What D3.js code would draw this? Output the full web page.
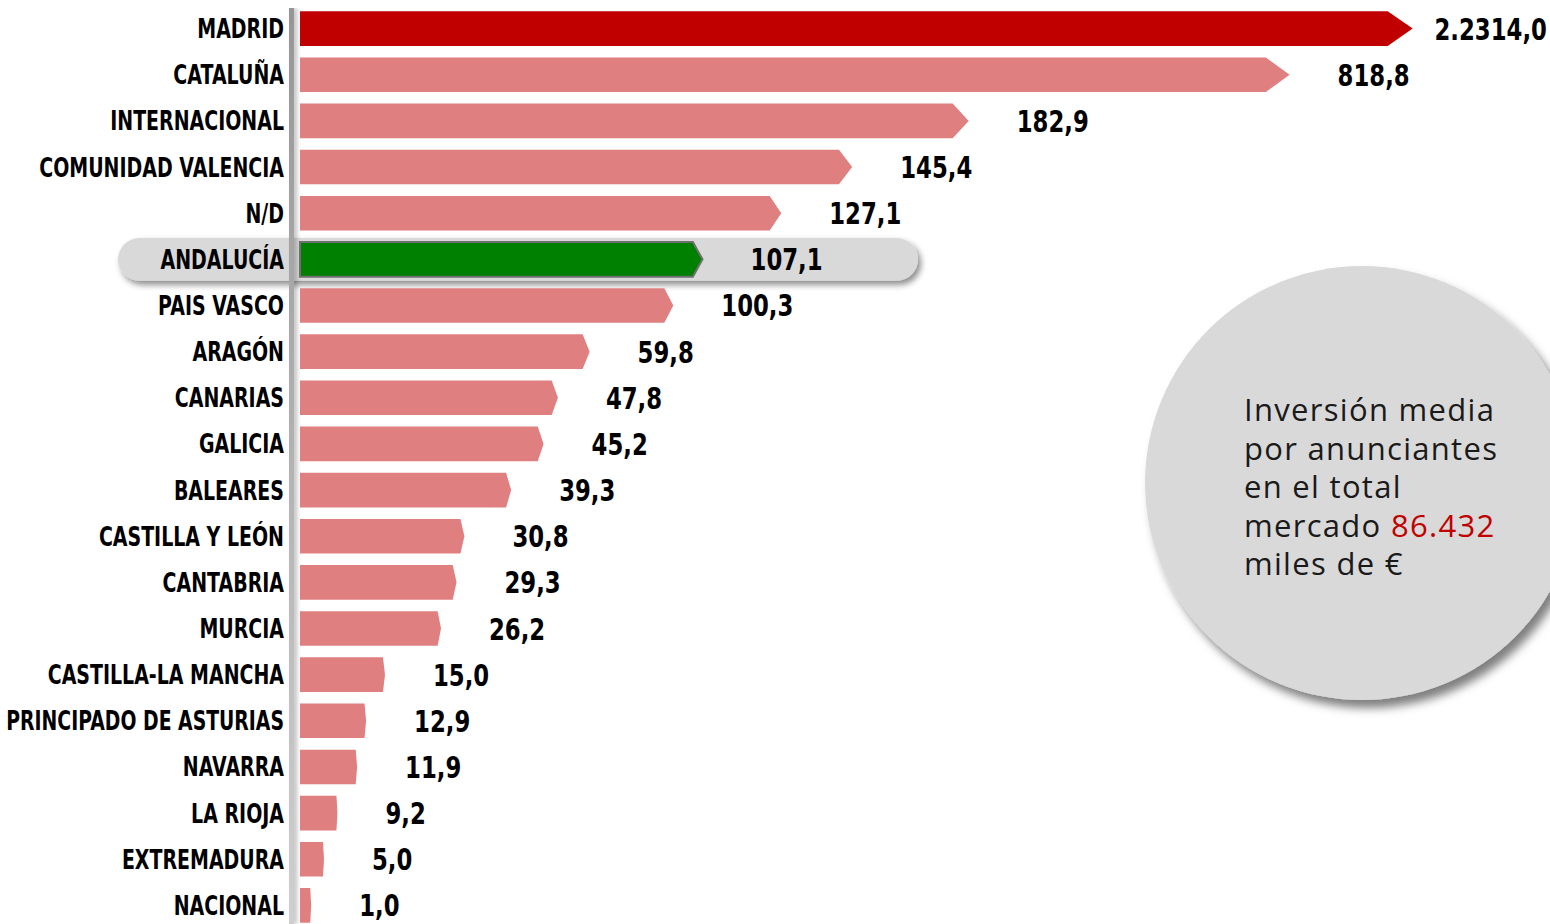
<!DOCTYPE html>
<html><head><meta charset="utf-8">
<script src="https://cdn.jsdelivr.net/npm/d3@7"></script>
<style>
html,body{margin:0;padding:0;background:#fff;}
svg{display:block;}
</style></head>
<body>
<svg id="chart" width="1550" height="924"></svg>
<script>
// ---- data ----
const categories = ["MADRID","CATALUÑA","INTERNACIONAL","COMUNIDAD VALENCIA","N/D","ANDALUCÍA","PAIS VASCO","ARAGÓN","CANARIAS","GALICIA","BALEARES","CASTILLA Y LEÓN","CANTABRIA","MURCIA","CASTILLA-LA MANCHA","PRINCIPADO DE ASTURIAS","NAVARRA","LA RIOJA","EXTREMADURA","NACIONAL"];
const values = [2314.0,818.8,182.9,145.4,127.1,107.1,100.3,59.8,47.8,45.2,39.3,30.8,29.3,26.2,15.0,12.9,11.9,9.2,5.0,1.0];
const valueLabels = ["2.2314,0","818,8","182,9","145,4","127,1","107,1","100,3","59,8","47,8","45,2","39,3","30,8","29,3","26,2","15,0","12,9","11,9","9,2","5,0","1,0"];
const highlight = "ANDALUCÍA";
const leader = "MADRID";
const noteLines = [["Inversión media"],["por anunciantes"],["en el total"],["mercado ","86.432"],["miles de €"]];
// scale breakpoints (the original graphic uses a compressed, non-linear bar length)
const scaleBreaks = [0,10,15,30,50,60,100,110,150,200,900,2400];

const svg = d3.select("#chart");
const W = 1550, H = 924;
const x0 = 300;
const labelFont = "'DejaVu Sans',sans-serif";

const defs = svg.append("defs");
const f1 = defs.append("filter").attr("id","shadow").attr("x","-20%").attr("y","-20%").attr("width","140%").attr("height","160%");
f1.append("feDropShadow").attr("dx",3).attr("dy",4).attr("stdDeviation",3).attr("flood-color","#000").attr("flood-opacity",0.45);
const f2 = defs.append("filter").attr("id","cshadow").attr("x","-20%").attr("y","-20%").attr("width","140%").attr("height","140%");
f2.append("feDropShadow").attr("dx",6).attr("dy",8).attr("stdDeviation",5).attr("flood-color","#000").attr("flood-opacity",0.5);
const f3 = defs.append("filter").attr("id","lshadow").attr("x","-200%").attr("y","0").attr("width","500%").attr("height","100%");
f3.append("feDropShadow").attr("dx",3).attr("dy",0).attr("stdDeviation",2).attr("flood-color","#000").attr("flood-opacity",0.25);
const g1 = defs.append("linearGradient").attr("id","vline").attr("x1",0).attr("y1",0).attr("x2",0).attr("y2",1);
g1.append("stop").attr("offset","0%").attr("stop-color","#969696");
g1.append("stop").attr("offset","100%").attr("stop-color","#cfcfcf");

// scales
const y = d3.scaleBand().domain(categories).range([9, 925]).paddingInner(0.25).paddingOuter(0.05);
const xLen = d3.scaleLinear().domain(scaleBreaks).range([8,40,85,160,270,290,372,415,570,720,1025,1118]).clamp(true);

// circle note
const cx = 1362, cy = 483, r = 217;
svg.append("circle").attr("cx",cx).attr("cy",cy).attr("r",r).attr("fill","#d9d9d9").attr("filter","url(#cshadow)");
const note = svg.append("text").attr("font-family","'Open Sans','Noto Sans',sans-serif").attr("font-size",31).attr("fill","#1a1a1a").attr("letter-spacing","1.3");
noteLines.forEach((parts,i)=>{
  const t = note.append("tspan").attr("x",1244).attr("y",421 + i*38.6);
  parts.forEach((p,j)=>{
    (j===0?t:note.append("tspan")).text(p).attr("fill", j===1 ? "#c00000" : "#1a1a1a");
  });
});

// highlight pill
const hy = y(highlight), bh = y.bandwidth();
svg.append("rect").attr("x",118).attr("y",hy-4).attr("width",800).attr("height",bh+8)
  .attr("rx",(bh+8)/2).attr("fill","#d9d9d9").attr("filter","url(#shadow)");

// vertical axis line
svg.append("rect").attr("x",289).attr("y",8).attr("width",5).attr("height",H-8).attr("fill","url(#vline)").attr("filter","url(#lshadow)");

// bars
const rows = categories.map((c,i)=>({c, v:values[i], lab:valueLabels[i]}));
function barPath(d){
  const top = y(d.c), h = y.bandwidth();
  const len = xLen(d.v);
  const tip = Math.max(1, Math.min(25, len*0.024));
  const xe = x0 + len;
  return `M${x0},${top}H${xe-tip}L${xe},${top+h/2}L${xe-tip},${top+h}H${x0}Z`;
}
svg.append("g").selectAll("path").data(rows).join("path")
  .attr("d",barPath)
  .attr("fill",d=> d.c===leader ? "#c00000" : d.c===highlight ? "#008000" : "#df7f7f")
  .attr("stroke",d=> d.c===highlight ? "#6f6f6f" : "none")
  .attr("stroke-width",2);

// category labels (condensed by horizontal scaling, shrunk further if too long)
const labelRight = 284;
const cl = svg.append("g").selectAll("text").data(rows).join("text")
  .attr("x",0).attr("y",0)
  .attr("text-anchor","end").attr("font-family",labelFont).attr("font-weight","bold")
  .attr("font-size",26).attr("fill","#000").text(d=>d.c);
cl.each(function(d){
  const w = this.getComputedTextLength();
  const s = Math.min(0.73, (labelRight - 6) / w);
  d3.select(this).attr("transform",`translate(${labelRight},${y(d.c)+y.bandwidth()/2+9.5}) scale(${s},1)`);
});

// value labels
const vScale = 0.76;
const vl = svg.append("g").selectAll("text").data(rows).join("text")
  .attr("x",0).attr("y",0)
  .attr("font-family",labelFont).attr("font-weight","bold")
  .attr("font-size",30).attr("fill","#000").text(d=>d.lab);
vl.each(function(d){
  const w = this.getComputedTextLength()*vScale;
  let xx = x0 + xLen(d.v) + 48;
  if (xx + w > W - 3) xx = W - 3 - w;
  d3.select(this).attr("transform",`translate(${xx},${y(d.c)+y.bandwidth()/2+11}) scale(${vScale},1)`);
});
</script>
</body></html>
